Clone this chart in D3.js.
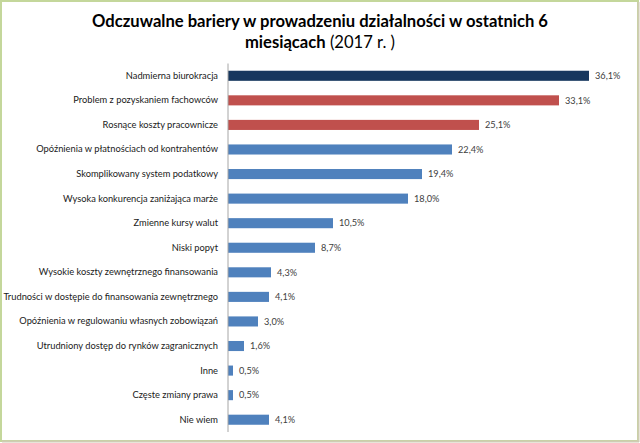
<!DOCTYPE html>
<html>
<head>
<meta charset="utf-8">
<script src="https://cdn.jsdelivr.net/npm/d3@7"></script>
<style>
  html, body { margin: 0; padding: 0; background: #fff; }
  svg { display: block; }
  text { font-family: Lato, "Liberation Sans", sans-serif; }
</style>
</head>
<body>
<svg id="chart" width="640" height="443"></svg>
<script>
const categories = [
  "Nadmierna biurokracja",
  "Problem z pozyskaniem fachowców",
  "Rosnące koszty pracownicze",
  "Opóźnienia w płatnościach od kontrahentów",
  "Skomplikowany system podatkowy",
  "Wysoka konkurencja zaniżająca marże",
  "Zmienne kursy walut",
  "Niski popyt",
  "Wysokie koszty zewnętrznego finansowania",
  "Trudności w dostępie do finansowania zewnętrznego",
  "Opóźnienia w regulowaniu własnych zobowiązań",
  "Utrudniony dostęp do rynków zagranicznych",
  "Inne",
  "Częste zmiany prawa",
  "Nie wiem"
];
const values = [36.1, 33.1, 25.1, 22.4, 19.4, 18.0, 10.5, 8.7, 4.3, 4.1, 3.0, 1.6, 0.5, 0.5, 4.1];
const groups = ["top", "high", "high", "other", "other", "other", "other", "other", "other", "other", "other", "other", "other", "other", "other"];
const groupColors = { top: "#17375E", high: "#C0504D", other: "#4F81BD" };
const titleLine1 = "Odczuwalne bariery w prowadzeniu działalności w ostatnich 6";
const titleLine2Bold = "miesiącach";
const titleLine2Normal = " (2017 r. )";

const data = categories.map((c, i) => ({ cat: c, val: values[i], group: groups[i] }));

const svg = d3.select("#chart");
const W = 640, H = 443;

// frame
svg.append("rect").attr("x", 1).attr("y", 1).attr("width", W - 3).attr("height", H - 3)
  .attr("fill", "#fff").attr("stroke", "#C4D79B").attr("stroke-width", 2);
svg.append("line").attr("x1", W - 1.5).attr("x2", W - 1.5).attr("y1", 2).attr("y2", H - 1)
  .attr("stroke", "#CFCCB4").attr("stroke-width", 2);
svg.append("line").attr("x1", 2).attr("x2", W - 1).attr("y1", H - 1.5).attr("y2", H - 1.5)
  .attr("stroke", "#CFCCB4").attr("stroke-width", 2);

// title
const title = svg.append("text").attr("text-anchor", "middle").attr("fill", "#000")
  .style("font-size", "16.6px");
title.append("tspan").attr("x", 320).attr("y", 27).style("font-weight", "bold").text(titleLine1);
const t2 = title.append("tspan").attr("x", 320).attr("y", 48);
t2.append("tspan").style("font-weight", "bold").text(titleLine2Bold);
t2.append("tspan").style("font-weight", "normal").text(titleLine2Normal);

const x = d3.scaleLinear().domain([0, 40]).range([228, 628]);
const y = d3.scaleBand().domain(categories).range([63.5, 432]).paddingInner(0.59).paddingOuter(0.295);

// bars
svg.append("g").selectAll("rect").data(data).join("rect")
  .attr("x", x(0))
  .attr("y", d => y(d.cat))
  .attr("width", d => x(d.val) - x(0))
  .attr("height", y.bandwidth())
  .attr("fill", d => groupColors[d.group]);

// value labels
svg.append("g").selectAll("text").data(data).join("text")
  .attr("x", d => x(d.val) + 6)
  .attr("y", d => y(d.cat) + y.bandwidth() / 2)
  .attr("dy", "0.35em")
  .attr("fill", "#404040")
  .style("font-size", "9.2px")
  .text(d => d3.format(".1f")(d.val).replace(".", ",") + "%");

// axis
const yAxis = d3.axisLeft(y).tickSize(0).tickPadding(10);
const ag = svg.append("g").attr("transform", `translate(${x(0)},0)`).call(yAxis);
ag.select(".domain").attr("stroke", "#A6A6A6").attr("d", `M0,63.5V432`);
ag.selectAll(".tick text").attr("fill", "#1a1a1a").style("font-size", "9.3px")
  .style("font-family", 'Lato, "Liberation Sans", sans-serif');
</script>
</body>
</html>
